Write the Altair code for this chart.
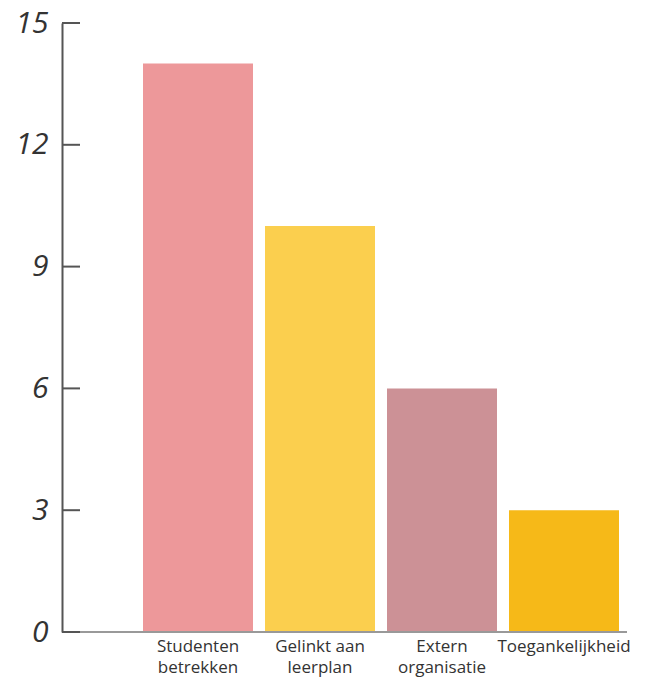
import altair as alt
import pandas as pd

categories = ["Studenten betrekken", "Gelinkt aan leerplan", "Extern organisatie", "Toegankelijkheid"]
values = [14, 10, 6, 3]
colors = ["#ED989A", "#FBCF4E", "#CC9196", "#F6B918"]
y_ticks = [0, 3, 6, 9, 12, 15]

df = pd.DataFrame({"cat": categories, "val": values})
ticks_df = pd.DataFrame({"t": y_ticks})

W, H = 565, 609

label_expr = ("indexof(datum.label, ' ') < 0 ? datum.label : "
              "[substring(datum.label, 0, lastindexof(datum.label, ' ')), "
              "substring(datum.label, lastindexof(datum.label, ' ') + 1)]")

yscale = alt.Scale(domain=[0, 15], nice=False)

bars = alt.Chart(df).mark_bar().encode(
    x=alt.X("cat:N", sort=categories, title=None,
            scale=alt.Scale(range=[81, 557], paddingInner=0.0984, paddingOuter=0),
            axis=alt.Axis(labelAngle=0, domain=False, ticks=False, labelPadding=6,
                          labelExpr=label_expr, labelFont="Open Sans", labelFontSize=17,
                          labelColor="#333333", labelLineHeight=21, labelBaseline="top")),
    y=alt.Y("val:Q", scale=yscale, title=None,
            axis=alt.Axis(values=y_ticks, ticks=False, grid=False, domainColor="#555555",
                          domainWidth=2, labelFont="Open Sans", labelFontStyle="italic",
                          labelFontWeight=400, labelFontSize=30, labelColor="#333333",
                          labelPadding=14)),
    color=alt.Color("cat:N", scale=alt.Scale(domain=categories, range=colors), legend=None),
)

tick_rules = alt.Chart(ticks_df).mark_rule(color="#555555", strokeWidth=2).encode(
    y=alt.Y("t:Q", scale=yscale),
    x=alt.value(0),
    x2=alt.value(18),
)

baseline = alt.Chart(ticks_df).mark_rule(color="#999999", strokeWidth=2).encode(
    y=alt.datum(0, scale=yscale),
    x=alt.value(0),
    x2=alt.value(W),
)

chart = alt.layer(bars, baseline, tick_rules).properties(
    width=W, height=H,
    autosize=alt.AutoSizeParams(type="none"),
    padding={"left": 54, "top": 15, "right": 16, "bottom": 48},
).configure_view(stroke=None)

chart.save("out.html", embed_options={"renderer": "svg", "actions": False})
